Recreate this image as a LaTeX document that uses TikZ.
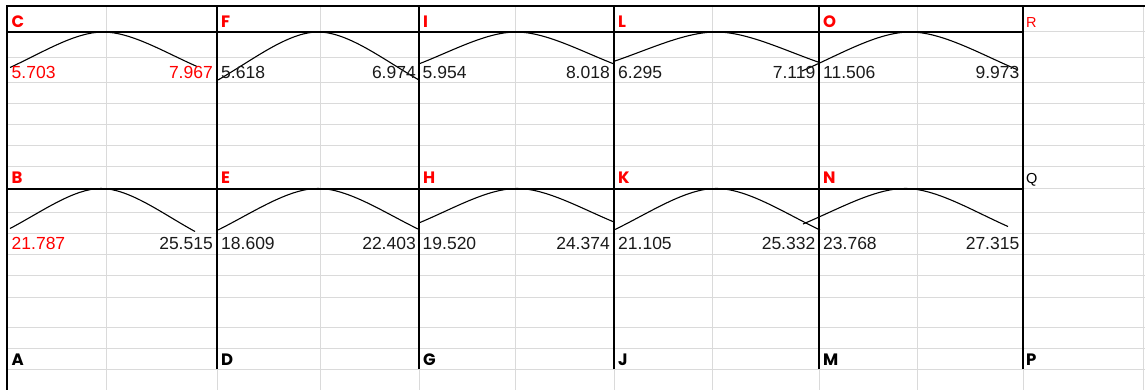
\documentclass[tikz,border=0pt]{standalone}
\usepackage{fontspec}
\setmainfont{Liberation Sans}
\newfontfamily\gothic{Poppins}
\definecolor{gridgrey}{HTML}{DADADA}
\definecolor{xred}{HTML}{FF0000}
\definecolor{ink}{HTML}{1A1A1A}
\tikzset{
  gridline/.style={draw=gridgrey, line width=1pt},
  frameline/.style={draw=black, line width=2pt},
  arcline/.style={draw=black, line width=1.1pt},
  num/.style={inner sep=0pt, text=ink, font=\fontsize{17.5}{20}\selectfont},
  numl/.style={num, anchor=base west},
  numr/.style={num, anchor=base east},
  lab/.style={inner sep=0pt, anchor=base west, font=\gothic\bfseries\fontsize{16.5}{18}\selectfont},
  plainlab/.style={inner sep=0pt, anchor=base west, font=\fontsize{14.5}{16}\selectfont},
}
% hump: start (#1,#2), peak (#3,#4), end (#5,#6)
\newcommand{\humparc}[6]{%
  \pgfmathsetmacro\hax{#1+0.35*(#3-#1)}%
  \pgfmathsetmacro\hay{#2+0.42*(#4-#2)}%
  \pgfmathsetmacro\hbx{#1+0.7*(#3-#1)}%
  \pgfmathsetmacro\hcx{#5+0.7*(#3-#5)}%
  \pgfmathsetmacro\hdx{#5+0.35*(#3-#5)}%
  \pgfmathsetmacro\hdy{#6+0.42*(#4-#6)}%
  \draw[arcline] (#1,#2) .. controls (\hax,\hay) and (\hbx,#4) .. (#3,#4)
    .. controls (\hcx,#4) and (\hdx,\hdy) .. (#5,#6);}
\begin{document}
\begin{tikzpicture}[x=1pt,y=-1pt]
\useasboundingbox (0,0) rectangle (1145,390);
% light grid
\foreach \y in {32,57.5,82.5,104,125,146,167,189,212,233,254,275,297,327,348,369}
  \draw[gridline] (7,\y) -- (1145,\y);
\foreach \x in {106,217,320,419,515,614,712,819,917,1023,1143}
  \draw[gridline] (\x,6) -- (\x,390);
% frame
\draw[frameline] (6,6) -- (1145,6);
\draw[frameline] (7,6) -- (7,390);
% black structure
\draw[frameline] (7,32) -- (1023,32);
\draw[frameline] (7,189) -- (1023,189);
\foreach \x in {217,419,614,819,1023}
  \draw[frameline] (\x,6) -- (\x,369);
% arcs top
\humparc{10}{67.5}{103}{32}{197}{66.5}
\humparc{218}{80}{318}{32}{419}{80}
\humparc{420}{63.5}{516}{32}{614}{64}
\humparc{615}{61}{716}{32}{818}{62}
\humparc{802}{71}{910}{32}{1018}{70}
% arcs bottom
\humparc{10}{228.5}{101}{188.5}{195}{231.5}
\humparc{218}{230}{318}{188.5}{419}{229.5}
\humparc{420}{222.5}{517}{188.5}{614}{222}
\humparc{615}{229.5}{716}{188.5}{820}{230}
\humparc{803}{224}{905}{188.5}{1008}{226.5}
% labels top
\node[lab, text=xred] (C) at (11.5,28) {C};
\node[lab, text=xred] (F) at (221,28) {F};
\node[lab, text=xred] (I) at (423,28) {I};
\node[lab, text=xred] (L) at (618,28) {L};
\node[lab, text=xred] (O) at (823,28) {O};
\node[plainlab, text=xred] (R) at (1026,28) {R};
% labels middle
\node[lab, text=xred] (B) at (11.5,183.5) {B};
\node[lab, text=xred] (E) at (221,183.5) {E};
\node[lab, text=xred] (H) at (423,183.5) {H};
\node[lab, text=xred] (K) at (618,183.5) {K};
\node[lab, text=xred] (N) at (823,183.5) {N};
\node[plainlab, text=black] (Q) at (1026,183.5) {Q};
% labels bottom
\node[lab, text=black] (A) at (11.5,365) {A};
\node[lab, text=black] (D) at (221,365) {D};
\node[lab, text=black] (G) at (423,365) {G};
\node[lab, text=black] (J) at (618,365) {J};
\node[lab, text=black] (M) at (823,365) {M};
\node[lab, text=black] (P) at (1026,365) {P};
% numbers top
\node[numl, text=xred] (c1) at (11.5,78.5) {5.703};
\node[numr, text=xred] (c2) at (213,78.5) {7.967};
\node[numl] (f1) at (221,78.5) {5.618};
\node[numr] (f2) at (416,78.5) {6.974};
\node[numl] (i1) at (422.5,78.5) {5.954};
\node[numr] (i2) at (610,78.5) {8.018};
\node[numl] (l1) at (618,78.5) {6.295};
\node[numr] (l2) at (815.5,78.5) {7.119};
\node[numl] (o1) at (823,78.5) {11.506};
\node[numr] (o2) at (1019.5,78.5) {9.973};
% numbers bottom
\node[numl, text=xred] (b1) at (11.5,249.5) {21.787};
\node[numr] (b2) at (213,249.5) {25.515};
\node[numl] (e1) at (221,249.5) {18.609};
\node[numr] (e2) at (416,249.5) {22.403};
\node[numl] (h1) at (422.5,249.5) {19.520};
\node[numr] (h2) at (610,249.5) {24.374};
\node[numl] (k1) at (618,249.5) {21.105};
\node[numr] (k2) at (815.5,249.5) {25.332};
\node[numl] (n1) at (823,249.5) {23.768};
\node[numr] (n2) at (1019.5,249.5) {27.315};
\end{tikzpicture}
\end{document}
